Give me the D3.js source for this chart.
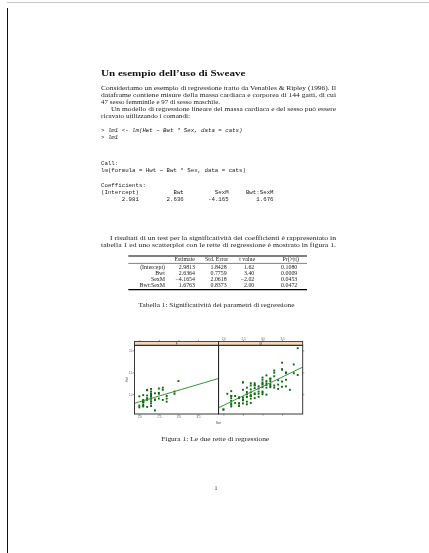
<!DOCTYPE html>
<html><head><meta charset="utf-8">
<script src="https://cdn.jsdelivr.net/npm/d3@7"></script>
<style>html,body{margin:0;padding:0;background:#fff;}svg{display:block;will-change:transform;}</style>
</head><body>
<script>
// ---------- data ----------
const femaleBwt = [2.0,2.0,2.0,2.1,2.1,2.1,2.1,2.1,2.1,2.1,2.1,2.1,2.2,2.2,2.2,2.2,2.2,2.2,2.3,2.3,2.3,2.3,2.3,2.3,2.3,2.3,2.3,2.3,2.3,2.3,2.4,2.4,2.4,2.4,2.5,2.5,2.5,2.5,2.6,2.6,2.6,2.7,2.7,2.7,2.9,2.9,3.0];
const femaleHwt = [7.0,7.4,9.5,7.2,7.3,7.6,8.1,8.2,8.3,8.5,8.7,9.8,7.1,8.7,9.1,9.7,10.9,11.0,7.3,7.9,8.4,9.0,9.0,9.5,9.6,9.7,10.1,10.1,10.6,11.2,6.3,8.7,8.8,10.2,9.0,10.1,10.3,11.3,8.7,11.0,11.5,8.3,9.0,9.6,10.1,10.6,13.0];
const maleBwt = [2.0,2.0,2.1,2.2,2.2,2.2,2.2,2.2,2.2,2.2,2.2,2.3,2.4,2.4,2.4,2.4,2.4,2.5,2.5,2.5,2.5,2.5,2.5,2.5,2.5,2.6,2.6,2.6,2.6,2.6,2.6,2.7,2.7,2.7,2.7,2.7,2.7,2.7,2.7,2.7,2.8,2.8,2.8,2.8,2.8,2.8,2.8,2.9,2.9,2.9,2.9,2.9,3.0,3.0,3.0,3.0,3.0,3.0,3.0,3.0,3.0,3.1,3.1,3.1,3.1,3.1,3.1,3.2,3.2,3.2,3.2,3.2,3.2,3.3,3.3,3.3,3.3,3.3,3.4,3.4,3.5,3.5,3.5,3.5,3.5,3.6,3.6,3.6,3.6,3.7,3.8,3.8,3.9,3.9,2.3,2.6,3.4];
const maleHwt = [6.5,6.5,10.1,7.2,7.6,7.9,8.5,9.1,9.6,9.6,10.7,9.6,7.3,7.9,7.9,9.1,9.3,7.9,8.6,8.8,8.8,9.3,11.0,12.7,12.7,7.7,8.3,9.4,9.4,10.5,11.5,8.0,9.0,9.6,9.6,9.8,10.4,11.1,12.0,12.5,9.1,10.0,10.2,11.4,12.0,12.1,12.5,9.4,10.1,10.6,11.3,11.8,10.0,10.4,10.6,11.6,12.2,12.4,12.7,13.3,13.8,9.9,11.5,12.1,12.5,13.0,14.3,11.6,11.9,12.3,13.0,13.5,13.6,11.5,12.0,14.1,14.9,15.4,11.2,12.2,11.7,12.9,15.6,15.7,17.2,11.8,13.3,14.8,15.0,11.0,14.8,16.8,14.4,20.5,8.0,10.0,13.2];
const panelLabels = ["F","M"];
// regression: intercept and slope per sex (from coefficients)
const lineIntercepts = [2.981, 2.981 - 4.165];
const lineSlopes = [2.636, 2.636 + 1.676];
const xTicks = [2.0, 2.5, 3.0, 3.5];
const yTicks = [10, 15, 20];

const tableHeader = ["", "Estimate", "Std. Error", "t value", "Pr(>|t|)"];
const tableRows = ["(Intercept)", "Bwt", "SexM", "Bwt:SexM"];
const tableEstimate = ["2.9813", "2.6364", "\u22124.1654", "1.6763"];
const tableStdErr = ["1.8428", "0.7759", "2.0618", "0.8373"];
const tableT = ["1.62", "3.40", "\u22122.02", "2.00"];
const tableP = ["0.1080", "0.0009", "0.0453", "0.0472"];

// ---------- page ----------
const W = 429, H = 553;
const svg = d3.select("body").append("svg").attr("width", W).attr("height", H);
svg.append("rect").attr("width", W).attr("height", H).attr("fill", "#fff");
svg.append("line").attr("x1", 7).attr("x2", W).attr("y1", 2.5).attr("y2", 2.5).attr("stroke", "#c8c8c8").attr("stroke-width", 1);
svg.append("line").attr("x1", 7.5).attr("x2", 7.5).attr("y1", 8).attr("y2", H).attr("stroke", "#111").attr("stroke-width", 1);

const serif = "'Liberation Serif','DejaVu Serif',serif";
const mono = "'Liberation Mono','DejaVu Sans Mono',monospace";
const ink = "#222";

function txt(x, y, s, opt = {}) {
  const t = svg.append("text").attr("x", x).attr("y", y).text(s)
    .attr("font-family", opt.family || serif)
    .attr("font-size", opt.size || 6.4)
    .attr("fill", opt.fill || ink);
  if (opt.weight) t.attr("font-weight", opt.weight);
  if (opt.style) t.attr("font-style", opt.style);
  if (opt.anchor) t.attr("text-anchor", opt.anchor);
  if (opt.len) t.attr("textLength", opt.len).attr("lengthAdjust", "spacingAndGlyphs");
  return t;
}

txt(101, 75.5, "Un esempio dell\u2019uso di Sweave", { weight: "bold", size: 8.8, len: 144.5, fill: "#111" });

txt(101, 89.5, "Consideriamo un esempio di regressione tratto da Venables & Ripley (1996). Il", { len: 235 });
txt(101, 96.5, "dataframe contiene misure della massa cardiaca e corporea di 144 gatti, di cui", { len: 235 });
txt(101, 103.5, "47 sesso femminile e 97 di sesso maschile.", { len: 119 });
txt(111, 110.5, "Un modello di regressione lineare del massa cardiaca e del sesso pu\u00f2 essere", { len: 225 });
txt(101, 117.5, "ricavato utilizzando i comandi:", { len: 89 });

const codeSize = 5.75;
txt(101, 131.5, "> lm1 <- lm(Hwt ~ Bwt * Sex, data = cats)", { family: mono, size: codeSize, style: "italic" }).attr("xml:space", "preserve");
txt(101, 138.5, "> lm1", { family: mono, size: codeSize, style: "italic" });
txt(101, 165, "Call:", { family: mono, size: codeSize });
txt(101, 172, "lm(formula = Hwt ~ Bwt * Sex, data = cats)", { family: mono, size: codeSize });
txt(101, 186.5, "Coefficients:", { family: mono, size: codeSize });
txt(101, 193.5, "(Intercept)          Bwt         SexM     Bwt:SexM", { family: mono, size: codeSize }).attr("xml:space", "preserve").style("white-space", "pre");
txt(101, 200.5, "      2.981        2.636       -4.165        1.676", { family: mono, size: codeSize }).attr("xml:space", "preserve").style("white-space", "pre");

txt(110, 239.5, "I risultati di un test per la significativit\u00e0 dei coefficienti \u00e8 rappresentato in", { len: 226 });
txt(101, 246.5, "tabella 1 ed uno scatterplot con le rette di regressione \u00e8 mostrato in figura 1.", { len: 235 });

// ---------- table ----------
const tSize = 5.9;
svg.append("line").attr("x1", 128.3).attr("x2", 307).attr("y1", 256).attr("y2", 256).attr("stroke", "#000").attr("stroke-width", 1.1);
svg.append("line").attr("x1", 128.3).attr("x2", 307).attr("y1", 263.4).attr("y2", 263.4).attr("stroke", "#000").attr("stroke-width", 0.5);
svg.append("line").attr("x1", 128.3).attr("x2", 307).attr("y1", 289.6).attr("y2", 289.6).attr("stroke", "#000").attr("stroke-width", 1.1);
const headRight = [165, 195, 228.3, 255, 299];
const colRight = [165, 195, 226.7, 254.3, 297.3];
tableHeader.forEach((h, i) => { if (h) txt(headRight[i], 261.3, h, { size: tSize, anchor: "end" }); });
const rowY = [268.6, 274.8, 281, 287.2];
const cols = [tableRows, tableEstimate, tableStdErr, tableT, tableP];
cols.forEach((col, ci) => col.forEach((v, ri) => txt(colRight[ci], rowY[ri], v, { size: tSize, anchor: "end" })));
txt(216.5, 306.5, "Tabella 1: Significativit\u00e0 dei parametri di regressione", { size: 5.9, anchor: "middle", len: 156 });

// ---------- figure (lattice xyplot Hwt ~ Bwt | Sex) ----------
const panelTop = 345.3, panelBottom = 414, stripTop = 341.5;
const panelXs = [[134.5, 218.6], [218.6, 302.7]];
const xDomain = [1.877, 4.028];
const y = d3.scaleLinear().domain([5.48, 21.17]).range([panelBottom, panelTop]);
const pointCol = "#0b6a0b", lineCol = "#1f8a1f";
const axCol = "#555", lblSize = 3;
const datasets = [[femaleBwt, femaleHwt], [maleBwt, maleHwt]];

const defs = svg.append("defs");
panelXs.forEach((px, p) => {
  const x = d3.scaleLinear().domain(xDomain).range(px);
  const g = svg.append("g");
  defs.append("clipPath").attr("id", "clip" + p).append("rect")
    .attr("x", px[0]).attr("y", panelTop).attr("width", px[1] - px[0]).attr("height", panelBottom - panelTop);
  // strip
  g.append("rect").attr("x", px[0]).attr("y", stripTop).attr("width", px[1] - px[0]).attr("height", panelTop - stripTop)
    .attr("fill", "#f3d7bd").attr("stroke", "#222").attr("stroke-width", 0.8);
  g.append("text").attr("x", (px[0] + px[1]) / 2).attr("y", stripTop + 3.1).attr("text-anchor", "middle")
    .attr("font-family", "'Liberation Sans',sans-serif").attr("font-size", lblSize).attr("fill", "#444").text(panelLabels[p]);
  // points
  const [bx, hy] = datasets[p];
  g.append("g").attr("clip-path", `url(#clip${p})`).selectAll("rect").data(bx.map((b, i) => [b, hy[i]])).join("rect")
    .attr("x", d => x(d[0]) - 0.95).attr("y", d => y(d[1]) - 0.95).attr("width", 1.9).attr("height", 1.9).attr("fill", pointCol);
  // regression line
  const lineGen = d3.line().x(d => x(d)).y(d => y(lineIntercepts[p] + lineSlopes[p] * d));
  g.append("path").attr("clip-path", `url(#clip${p})`).attr("d", lineGen(xDomain))
    .attr("fill", "none").attr("stroke", lineCol).attr("stroke-width", 0.9);
  // panel border
  g.append("rect").attr("x", px[0]).attr("y", panelTop).attr("width", px[1] - px[0]).attr("height", panelBottom - panelTop)
    .attr("fill", "none").attr("stroke", "#222").attr("stroke-width", 0.9);
  // x axes: ticks top and bottom, labels bottom for panel 0, top for panel 1
  const bottom = d3.axisBottom(x).tickValues(xTicks).tickSize(1.6).tickFormat(p === 0 ? d3.format(".1f") : () => "");
  const top = d3.axisTop(x).tickValues(xTicks).tickSize(1.6).tickFormat(p === 1 ? d3.format(".1f") : () => "");
  const gb = g.append("g").attr("transform", `translate(0,${panelBottom})`).call(bottom);
  const gt = g.append("g").attr("transform", `translate(0,${stripTop})`).call(top);
  [gb, gt].forEach(a => {
    a.select(".domain").remove();
    a.selectAll("line").attr("stroke", axCol).attr("stroke-width", 0.6);
    a.selectAll("text").attr("font-size", lblSize).attr("fill", "#666").attr("font-family", "'Liberation Sans',sans-serif");
  });
  gb.selectAll("text").attr("dy", "0.71em").attr("y", 2.2);
  gt.selectAll("text").attr("y", -2);
});
// y axes
const ya = svg.append("g").attr("transform", `translate(${panelXs[0][0]},0)`)
  .call(d3.axisLeft(y).tickValues(yTicks).tickSize(1.6).tickFormat(d3.format("d")));
const yb = svg.append("g").attr("transform", `translate(${panelXs[1][1]},0)`)
  .call(d3.axisRight(y).tickValues(yTicks).tickSize(1.6).tickFormat(() => ""));
[ya, yb].forEach(a => {
  a.select(".domain").remove();
  a.selectAll("line").attr("stroke", axCol).attr("stroke-width", 0.6);
  a.selectAll("text").attr("font-size", lblSize).attr("fill", "#666").attr("font-family", "'Liberation Sans',sans-serif").attr("x", -2.2);
});
svg.append("text").attr("transform", `translate(127.5,${(panelTop + panelBottom) / 2}) rotate(-90)`).attr("text-anchor", "middle")
  .attr("font-family", "'Liberation Sans',sans-serif").attr("font-size", lblSize).attr("fill", "#555").text("Hwt");
svg.append("text").attr("x", panelXs[0][1]).attr("y", 423.5).attr("text-anchor", "middle")
  .attr("font-family", "'Liberation Sans',sans-serif").attr("font-size", lblSize).attr("fill", "#555").text("Bwt");

txt(215.2, 440.5, "Figura 1: Le due rette di regressione", { size: 5.9, anchor: "middle", len: 108 });
txt(216, 489.5, "1", { size: 5.9, anchor: "middle" });
</script>
</body></html>
